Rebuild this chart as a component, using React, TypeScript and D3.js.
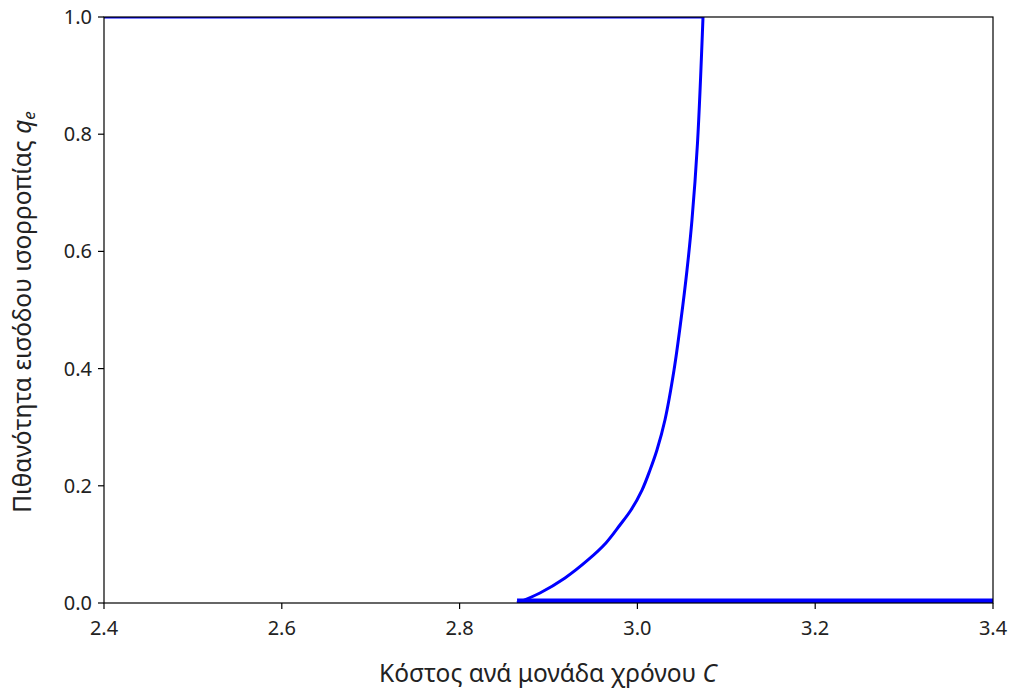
import React from "react";
import * as d3 from "d3";

const xTicks = [2.4, 2.6, 2.8, 3.0, 3.2, 3.4];
const yTicks = [0.0, 0.2, 0.4, 0.6, 0.8, 1.0];

// Upper branch (q_e = 1)
const upperX = [2.4, 3.0738];
const upperY = [1.0, 1.0];

// Middle (unstable) branch
const curveX = [2.8646, 2.8904, 2.9186, 2.9444, 2.9646, 2.9804, 2.9928, 3.0052, 3.0142, 3.022, 3.031, 3.0412, 3.049, 3.0558, 3.0614, 3.0676, 3.0738];
const curveY = [0.0, 0.0171, 0.0427, 0.0734, 0.1024, 0.1331, 0.1587, 0.1928, 0.227, 0.2611, 0.3123, 0.3976, 0.4829, 0.5683, 0.6536, 0.785, 1.0];

// Lower branch (q_e = 0)
const lowerX = [2.8646, 3.4];
const lowerY = [0.0, 0.0];

const W = 1015, H = 696;
const L = 104, R = 993, T = 17, B = 603;

export default function App() {
  const x = d3.scaleLinear().domain([2.4, 3.4]).range([L, R]);
  const y = d3.scaleLinear().domain([0, 1]).range([B, T]);
  const line = d3.line<[number, number]>().x(d => x(d[0])).y(d => y(d[1]));
  const smooth = d3.line<[number, number]>().x(d => x(d[0])).y(d => y(d[1])).curve(d3.curveCatmullRom.alpha(0.5));
  const pts = (xs: number[], ys: number[]) => xs.map((v, i) => [v, ys[i]] as [number, number]);
  const font = "'Noto Sans', 'Open Sans', sans-serif";
  return (
    <svg width={W} height={H} style={{ position: "absolute", left: 0, top: 0, background: "#fff" }} fontFamily={font}>
      <defs>
        <clipPath id="plot">
          <rect x={L} y={T} width={R - L} height={B - T} />
        </clipPath>
      </defs>
      <g clipPath="url(#plot)" fill="none" stroke="#0000ff">
        <path d={line(pts(upperX, upperY)) || ""} strokeWidth={3} />
        <path d={smooth(pts(curveX, curveY)) || ""} strokeWidth={3} strokeLinejoin="round" />
        <path d={line(pts(lowerX, lowerY)) || ""} strokeWidth={9} />
      </g>
      <rect x={L} y={T} width={R - L} height={B - T} fill="none" stroke="#000" strokeWidth={1.2} />
      {xTicks.map(t => (
        <g key={"x" + t}>
          <line x1={x(t)} x2={x(t)} y1={B} y2={B + 6} stroke="#000" strokeWidth={1.2} />
          <text x={x(t)} y={B + 32} textAnchor="middle" fontSize={20} fill="#222">{t.toFixed(1)}</text>
        </g>
      ))}
      {yTicks.map(t => (
        <g key={"y" + t}>
          <line x1={L - 6} x2={L} y1={y(t)} y2={y(t)} stroke="#000" strokeWidth={1.2} />
          <text x={L - 12} y={y(t) + 7} textAnchor="end" fontSize={20} fill="#222">{t.toFixed(1)}</text>
        </g>
      ))}
      <text x={548} y={682} textAnchor="middle" fontSize={24.5} fill="#222">
        Κόστος ανά μονάδα χρόνου <tspan fontStyle="italic">C</tspan>
      </text>
      <text transform={`translate(31, 312) rotate(-90)`} textAnchor="middle" fontSize={24.5} fill="#222">
        Πιθανότητα εισόδου ισορροπίας <tspan fontStyle="italic">q</tspan><tspan fontStyle="italic" fontSize={17} dy={4}>e</tspan>
      </text>
    </svg>
  );
}
